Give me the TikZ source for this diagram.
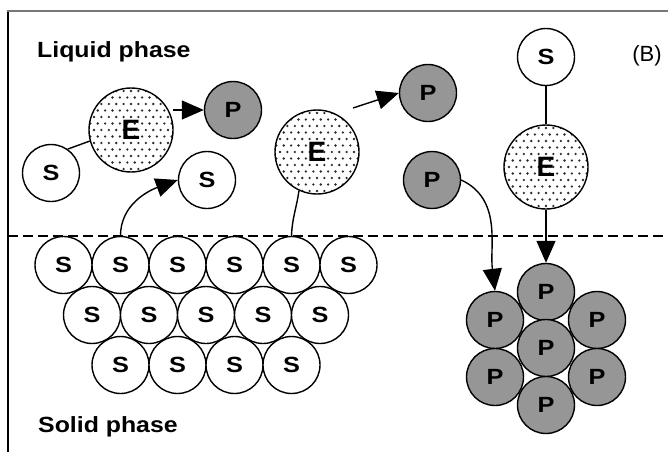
\documentclass[tikz,border=0pt]{standalone}
\usepackage{fontspec}
\setmainfont{Liberation Sans}
\usetikzlibrary{arrows.meta}
\definecolor{pgray}{RGB}{150,150,150}
\definecolor{dotc}{RGB}{45,45,45}
\definecolor{framegray}{RGB}{120,120,120}
\newcommand\Wd[1]{\scalebox{1.15}[1]{#1}}
\newcommand\Edots[1]{%
  \begin{scope}[shift={(#1)}]
    \clip (0,0) circle (41.5);
    \foreach \i in {-6,...,6}{\foreach \j in {-3,...,3}{
      \fill[dotc] ({\i*7.4},{\j*13}) circle (1.3);
      \fill[dotc] ({\i*7.4+3.7},{\j*13+6.5}) circle (1.3);}}
  \end{scope}}
\begin{document}
\begin{tikzpicture}[x=1pt,y=1pt,
  sub/.style={circle,draw,line width=1.4pt,minimum size=57pt,inner sep=0pt,fill=white,
    font=\fontsize{22}{22}\selectfont\bfseries},
  prod/.style={sub,fill=pgray},
  enz/.style={circle,draw,line width=1.4pt,minimum size=84pt,inner sep=0pt,
    font=\fontsize{28}{28}\selectfont\bfseries},
  conn/.style={line width=1.4pt},
  arr/.style={line width=1.4pt,-{Triangle[length=22pt,width=19pt]}},
  phase/.style={font=\fontsize{22}{22}\selectfont\bfseries,inner sep=0pt,anchor=base west}]
\useasboundingbox (0,0) rectangle (668,-452);
% frame
\draw[line width=2pt] (8,-452) -- (8,-11);
\draw[line width=2pt,framegray] (7,-11) -- (668,-11);
% labels
\node[phase] (lq) at (37,-57) {\scalebox{1.13}[1]{Liquid phase}};
\node[phase] (sd) at (38,-432) {\scalebox{1.13}[1]{Solid phase}};
\node[font=\fontsize{22}{22}\selectfont,inner sep=0pt] (B) at (647,-56) {(B)};
% solid substrate
\foreach \k in {1,...,6}{\node[sub] (s1\k) at ({63.5+57*(\k-1)},-265) {\Wd{S}};}
\foreach \k in {1,...,5}{\node[sub] (s2\k) at ({92+57*(\k-1)},-315) {\Wd{S}};}
\foreach \k in {1,...,4}{\node[sub] (s3\k) at ({120.5+57*(\k-1)},-365) {\Wd{S}};}
% enzymes
\coordinate (e1c) at (131,-130);
\coordinate (e2c) at (317,-152);
\coordinate (e3c) at (546,-167);
\Edots{e1c}\Edots{e2c}\Edots{e3c}
\node[enz] (E1) at (e1c) {E};
\node[enz] (E2) at (e2c) {E};
\node[enz] (E3) at (e3c) {E};
% liquid molecules
\node[sub] (Sa) at (51,-173) {\Wd{S}};
\node[sub] (Sb) at (207,-180) {\Wd{S}};
\node[sub] (Sc) at (546,-57) {\Wd{S}};
\node[prod] (P1) at (233,-110) {\Wd{P}};
\node[prod] (P2) at (428,-93) {\Wd{P}};
\node[prod] (P3) at (432,-180) {\Wd{P}};
% product cluster
\node[prod] (pt) at (546,-292) {\Wd{P}};
\node[prod] (pul) at (495,-320) {\Wd{P}};
\node[prod] (pur) at (597,-320) {\Wd{P}};
\node[prod] (pc) at (546,-348) {\Wd{P}};
\node[prod] (pll) at (495,-377) {\Wd{P}};
\node[prod] (plr) at (597,-377) {\Wd{P}};
\node[prod] (pb) at (546,-405) {\Wd{P}};
% connectors
\draw[conn] (Sa.55) -- (E1.195);
\coordinate (a1) at (173,-110);
\draw[arr] (a1) -- (P1.west);
\draw[arr] (s12.north) to[out=90,in=200] (Sb.west);
\draw[conn] (E2.245) to[out=262,in=88] (s15.north);
\coordinate (a2) at (353,-108);
\draw[arr] (a2) -- (P2.west);
\draw[arr] (P3.east) to[out=-25,in=97] (pul.north);
\draw[conn] (Sc.south) -- (E3.north);
\draw[arr] (E3.south) -- (pt.north);
% phase boundary
\draw[line width=1.4pt,dash pattern=on 10pt off 5pt] (8,-236) -- (668,-236);
\end{tikzpicture}
\end{document}
